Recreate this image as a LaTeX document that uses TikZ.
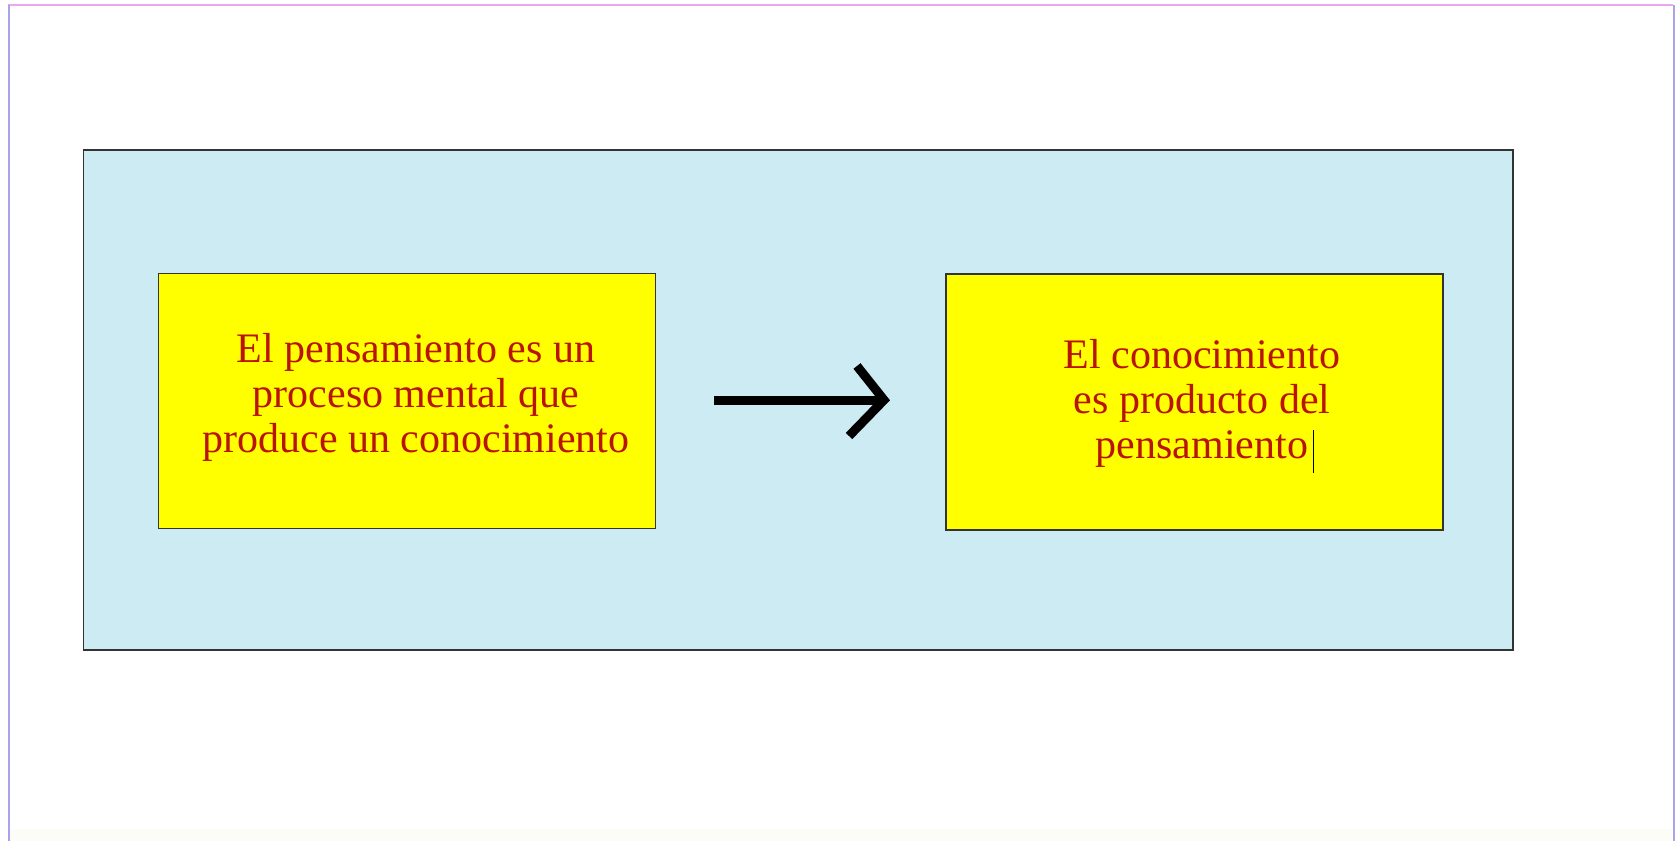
\documentclass[tikz,border=0pt]{standalone}
\usepackage{fontspec}
\setmainfont{Liberation Serif}
\definecolor{panelblue}{HTML}{CDEBF3}
\definecolor{boxyellow}{HTML}{FFFF00}
\definecolor{textred}{HTML}{B81400}
\definecolor{framepink}{HTML}{EEA6EE}
\definecolor{framelav}{HTML}{A9A3EE}
\definecolor{cream}{HTML}{FCFDF6}
\tikzset{
  panel/.style={draw=black!80, line width=1.2pt, fill=panelblue},
  ybox/.style={draw=black!80, line width=1.2pt, fill=boxyellow},
  btext/.style={text=textred, font=\fontsize{42}{45}\selectfont, align=center, anchor=base, inner sep=0pt},
  bigarrow/.style={line width=9pt, black}
}
\begin{document}
\begin{tikzpicture}[x=1pt,y=-1pt]
\useasboundingbox (0,0) rectangle (1679,841);
\fill[white] (0,0) rectangle (1679,841);
\fill[cream] (9,829) rectangle (1672,841);
% outer frame
\draw[framepink, line width=2pt] (8,5) -- (1673,5);
\draw[framelav, line width=2pt] (8.5,5) -- (8.5,841);
\draw[framelav, line width=2pt] (1673.5,5) -- (1673.5,841);
% panel
\draw[panel] (83.5,150) rectangle (1513,650);
% boxes
\node[ybox, minimum width=497pt, minimum height=255pt, inner sep=0pt] (left) at (407,401) {};
\node[ybox, minimum width=497pt, minimum height=256pt, inner sep=0pt] (right) at (1194.5,402) {};
\node[btext] (lt) at (416,452) {El pensamiento es un\\proceso mental que\\produce un conocimiento};
\node[btext] (rt) at (1202,458) {El conocimiento\\es producto del\\pensamiento};
% cursor
\draw[black, line width=1.2pt] (1313.5,430) -- (1313.5,473);
% arrow
\coordinate (tip) at (884,400);
\draw[bigarrow] (714,400) -- (tip);
\draw[bigarrow, line cap=butt, line join=miter] (857,366) -- (tip) -- (849,436);
\end{tikzpicture}
\end{document}
